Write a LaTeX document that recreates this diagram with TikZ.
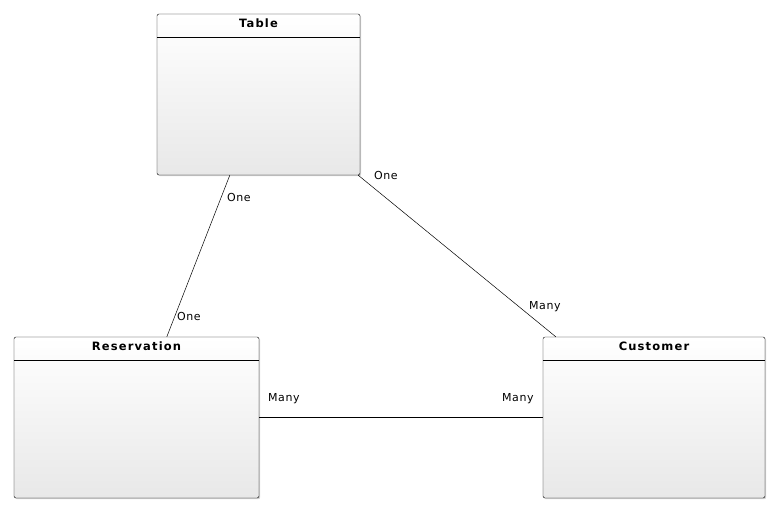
\documentclass[tikz,border=0pt]{standalone}
\usepackage{fontspec}
\setmainfont{DejaVu Sans}
\newfontfamily\titlefont[LetterSpace=10]{DejaVu Sans}
\newfontfamily\multfont[LetterSpace=5]{DejaVu Sans}
\usetikzlibrary{positioning,calc,shadows}
\definecolor{boxbottom}{HTML}{E8E8E8}

\begin{document}
\begin{tikzpicture}[x=1pt,y=-1pt,
  entity/.style={draw, rounded corners=2pt, top color=white, bottom color=boxbottom,
    drop shadow={shadow xshift=1.2pt, shadow yshift=-1.2pt, opacity=0.35}},
  ttl/.style={font=\titlefont\fontsize{11.5}{12}\selectfont\bfseries, inner sep=0pt},
  mult/.style={font=\multfont\fontsize{11}{12}\selectfont, inner sep=0pt},
  rel/.style={draw, line width=0.5pt},
]
  \useasboundingbox (0,0) rectangle (779,512);

  % Entities
  \node[entity, minimum width=203pt, minimum height=161pt] (tbl) at (258.5,94.5) {};
  \node[entity, minimum width=245pt, minimum height=161pt] (res) at (136.5,417.5) {};
  \node[entity, minimum width=222pt, minimum height=161pt] (cust) at (654,417.5) {};

  % Header lines and titles
  \draw ([yshift=-23pt]tbl.north west) -- ([yshift=-23pt]tbl.north east);
  \draw ([yshift=-23pt]res.north west) -- ([yshift=-23pt]res.north east);
  \draw ([yshift=-23pt]cust.north west) -- ([yshift=-23pt]cust.north east);
  \node[ttl, below=4.5pt of tbl.north] (tblname) {Table};
  \node[ttl, below=4.5pt of res.north] (resname) {Reservation};
  \node[ttl, below=4.5pt of cust.north] (custname) {Customer};

  % Relationships
  \coordinate (tres) at ([xshift=73pt]tbl.south west);
  \coordinate (rtbl) at ([xshift=153pt]res.north west);
  \coordinate (ccust) at ([xshift=13pt]cust.north west);
  \draw[rel] (tres) -- (rtbl);
  \draw[rel] ([xshift=-2pt]tbl.south east) -- (ccust);
  \draw[rel] (res.east) -- (cust.west);

  % Multiplicities
  \node[mult, anchor=west] (m1) at (227,197) {One};
  \node[mult, anchor=west] (m2) at (177,316) {One};
  \node[mult, anchor=west] (m3) at (374,175) {One};
  \node[mult, anchor=west] (m4) at (529,307) {Many};
  \node[mult, anchor=west] (m5) at (268,399) {Many};
  \node[mult, anchor=west] (m6) at (502,399) {Many};
\end{tikzpicture}
\end{document}
